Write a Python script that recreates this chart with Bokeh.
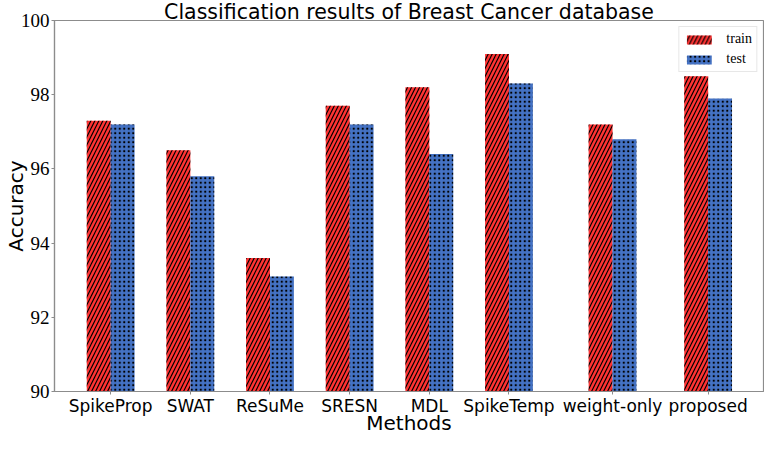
from bokeh.plotting import figure
from bokeh.models import Range1d, FixedTicker, Legend, LegendItem, ColumnDataSource
from bokeh.embed import file_html
from bokeh.resources import INLINE

methods = ["SpikeProp", "SWAT", "ReSuMe", "SRESN", "MDL", "SpikeTemp", "weight-only", "proposed"]
train = [97.3, 96.5, 93.6, 97.7, 98.2, 99.1, 97.2, 98.5]
test = [97.2, 95.8, 93.1, 97.2, 96.4, 98.3, 96.8, 97.9]
y_ticks = [90, 92, 94, 96, 98, 100]
title_text = "Classification results of Breast Cancer database"
x_title = "Methods"
y_title = "Accuracy"

# layout: category slot positions along the x axis (uneven in the original)
slot = [0, 1, 2, 3, 4, 5, 6.3, 7.5]
bw = 0.3

src = ColumnDataSource(dict(
    xt=[s - bw / 2 for s in slot],
    xs=[s + bw / 2 for s in slot],
    train=train, test=test,
))

p = figure(width=764, height=437,
           x_range=Range1d(-0.705, 8.195), y_range=Range1d(90, 100),
           output_backend="svg", toolbar_location=None,
           min_border_left=46, min_border_right=1, min_border_top=0, min_border_bottom=30)

gray = "#8c8c8c"
red = "#ff3333"
blue = "#4472c4"

r1 = p.vbar(x="xt", top="train", bottom=90, width=bw, source=src,
            fill_color=red, line_color=None,
            hatch_pattern="right_diagonal_line", hatch_color="black",
            hatch_scale=8, hatch_weight=1.2)
r2 = p.vbar(x="xs", top="test", bottom=90, width=bw, source=src,
            fill_color=blue, line_color=None,
            hatch_pattern="dot", hatch_color="black",
            hatch_scale=4.5, hatch_weight=1.6)

p.title.text = title_text
p.title.align = "center"
p.title.text_font = "DejaVu Sans"
p.title.text_font_size = "20.5px"
p.title.text_font_style = "normal"
p.title.text_color = "black"
p.title.standoff = -6
p.title.offset = 0

p.xgrid.visible = False
p.ygrid.visible = False
p.outline_line_color = gray
p.outline_line_width = 1.2

p.xaxis.ticker = FixedTicker(ticks=slot)
p.xaxis.major_label_overrides = {s: m for s, m in zip(slot, methods)}
p.xaxis.axis_label = x_title
p.yaxis.ticker = FixedTicker(ticks=y_ticks)
p.yaxis.axis_label = y_title

for ax in (p.xaxis[0], p.yaxis[0]):
    ax.axis_line_color = gray
    ax.axis_line_width = 1.2
    ax.major_tick_line_color = gray
    ax.major_tick_in = 0
    ax.major_tick_out = 3
    ax.minor_tick_line_color = None
    ax.axis_label_text_font = "DejaVu Sans"
    ax.axis_label_text_font_size = "20px"
    ax.axis_label_text_font_style = "normal"
    ax.axis_label_text_color = "black"
    ax.major_label_standoff = 2
    ax.major_label_text_color = "black"

p.xaxis.major_label_standoff = 1
p.xaxis.axis_label_standoff = -8
p.yaxis.axis_label_standoff = -10

p.xaxis.major_label_text_font = "DejaVu Sans"
p.xaxis.major_label_text_font_size = "17px"
p.yaxis.major_label_text_font = "Liberation Serif"
p.yaxis.major_label_text_font_size = "19px"

legend = Legend(items=[LegendItem(label="train", renderers=[r1]),
                       LegendItem(label="test", renderers=[r2])],
                location="top_right", margin=6,
                label_text_font="Liberation Serif", label_text_font_size="14px",
                label_text_color="black",
                glyph_width=31, glyph_height=11, label_height=16, spacing=4,
                padding=4, label_standoff=12,
                border_line_color="#d0d0d0", border_line_width=1,
                background_fill_alpha=1.0)
p.add_layout(legend)

open("out.html", "w").write(file_html(p, INLINE))
